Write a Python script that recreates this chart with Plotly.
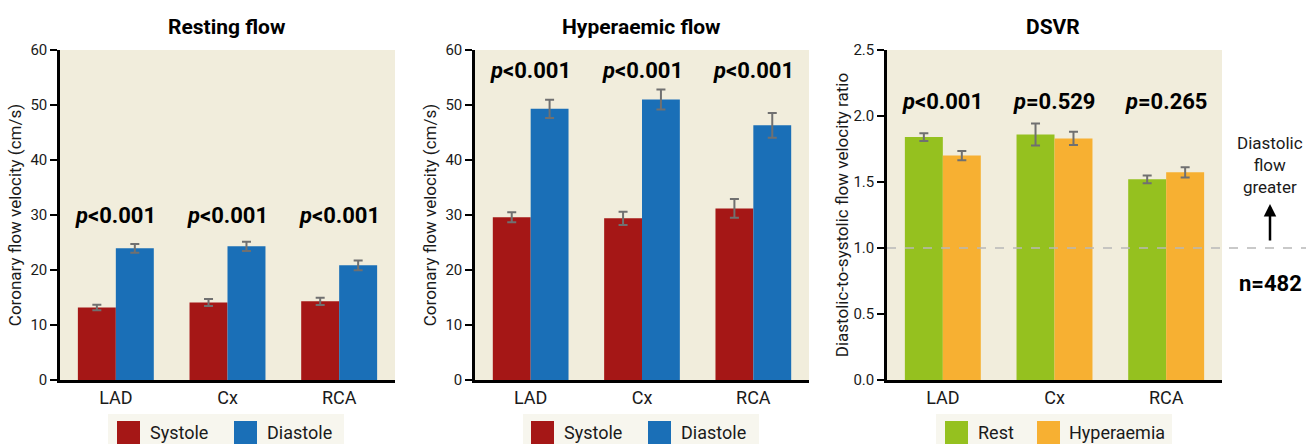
import plotly.graph_objects as go

# ---- data ----
vessels = ["LAD", "Cx", "RCA"]

rest_systole = [13.2, 14.1, 14.3]
rest_systole_err = [0.5, 0.65, 0.65]
rest_diastole = [23.95, 24.3, 20.85]
rest_diastole_err = [0.8, 0.85, 0.9]

hyp_systole = [29.6, 29.4, 31.2]
hyp_systole_err = [0.9, 1.2, 1.7]
hyp_diastole = [49.3, 51.0, 46.3]
hyp_diastole_err = [1.65, 1.8, 2.25]

dsvr_rest = [1.84, 1.86, 1.52]
dsvr_rest_err = [0.03, 0.083, 0.03]
dsvr_hyp = [1.70, 1.83, 1.573]
dsvr_hyp_err = [0.035, 0.05, 0.039]

p_rest = ["<0.001", "<0.001", "<0.001"]
p_hyp = ["<0.001", "<0.001", "<0.001"]
p_dsvr = ["<0.001", "=0.529", "=0.265"]

panel_titles = ["Resting flow", "Hyperaemic flow", "DSVR"]
y_titles = ["Coronary flow velocity (cm/s)", "Coronary flow velocity (cm/s)",
            "Diastolic-to-systolic flow velocity ratio"]
legend_names = [["Systole", "Diastole"], ["Systole", "Diastole"], ["Rest", "Hyperaemia"]]
sample_size = "n=482"
reference_ratio = 1.0

# ---- style ----
W, H = 1307, 444
FONT = "Roboto, Liberation Sans, sans-serif"
RED, BLUE = "#a51716", "#1a6fb7"
GREEN, ORANGE = "#95c11f", "#f7b032"
PLOT_BG = "#f1eddc"
LEG_BG = "#f7f6ee"
ERR = "#707070"
TXT = "#1a1a1a"


def px(x):
    return x / W


def py(y):
    return (H - y) / H


x_domains = [(60, 395), (475, 809), (887, 1222)]
panel_centres = [227, 641, 1053]
y_bottom, y_top = 380, 50
title_standoffs = [5, 5, 1]

fig = go.Figure()

series = [
    (rest_systole, rest_systole_err, rest_diastole, rest_diastole_err, RED, BLUE),
    (hyp_systole, hyp_systole_err, hyp_diastole, hyp_diastole_err, RED, BLUE),
    (dsvr_rest, dsvr_rest_err, dsvr_hyp, dsvr_hyp_err, GREEN, ORANGE),
]

for i, (a, ae, b, be, ca, cb) in enumerate(series):
    xa = "x" if i == 0 else f"x{i+1}"
    ya = "y" if i == 0 else f"y{i+1}"
    for vals, errs, col, name in ((a, ae, ca, legend_names[i][0]), (b, be, cb, legend_names[i][1])):
        fig.add_trace(go.Bar(
            x=vessels, y=vals, name=name, marker=dict(color=col, line=dict(width=0)),
            error_y=dict(type="data", array=errs, color=ERR, thickness=2, width=4.5),
            xaxis=xa, yaxis=ya, showlegend=False,
        ))

layout = dict(
    width=W, height=H, margin=dict(l=0, r=0, t=0, b=0, autoexpand=False),
    paper_bgcolor="white", plot_bgcolor=PLOT_BG,
    barmode="group", bargap=0.32, bargroupgap=0,
    font=dict(family=FONT, color=TXT),
)

y_ranges = [[0, 60], [0, 60], [0, 2.5]]
y_dticks = [10, 10, 0.5]
y_formats = ["d", "d", ".1f"]
for i in range(3):
    sfx = "" if i == 0 else str(i + 1)
    layout[f"xaxis{sfx}"] = dict(
        domain=[px(x_domains[i][0]), px(x_domains[i][1])], anchor=f"y{sfx}",
        showline=True, linecolor="black", linewidth=2.5, ticks="",
        tickfont=dict(size=18, family=FONT, color=TXT), showgrid=False,
        automargin=False,
    )
    layout[f"yaxis{sfx}"] = dict(
        domain=[py(y_bottom), py(y_top)], anchor=f"x{sfx}",
        range=y_ranges[i], dtick=y_dticks[i], tickformat=y_formats[i],
        showline=True, linecolor="black", linewidth=2.5,
        ticks="outside", ticklen=7, tickwidth=1.5, tickcolor="black",
        tickfont=dict(size=15, family=FONT, color=TXT),
        showgrid=False, zeroline=False, automargin=False,
        title=dict(text=y_titles[i], font=dict(size=17, family=FONT, color=TXT),
                   standoff=title_standoffs[i]),
    )
fig.update_layout(**layout)

annotations = []
shapes = []

# panel titles
for i in range(3):
    annotations.append(dict(
        x=px(panel_centres[i]), y=py(27), xref="paper", yref="paper",
        xanchor="center", yanchor="middle",
        text=f"<b>{panel_titles[i]}</b>", showarrow=False,
        font=dict(size=21, family=FONT, color="black"),
    ))

# p-value labels above each vessel
p_sets = [(p_rest, 30.0), (p_hyp, 56.3), (p_dsvr, 2.11)]
for i, (plist, ypos) in enumerate(p_sets):
    sfx = "" if i == 0 else str(i + 1)
    for v, p in zip(vessels, plist):
        annotations.append(dict(
            x=v, y=ypos, xref=f"x{sfx}", yref=f"y{sfx}",
            xanchor="center", yanchor="middle",
            text=f"<b><i>p</i>{p.replace('<', '&lt;')}</b>", showarrow=False,
            font=dict(size=22, family=FONT, color="black"),
        ))

# reference line at ratio 1.0, extending past the DSVR panel
shapes.append(dict(
    type="line", xref="paper", yref="y3", x0=px(887), x1=px(1306),
    y0=reference_ratio, y1=reference_ratio,
    line=dict(color="#b8b8b8", width=1.5, dash="dash"),
))

# side note with arrow
annotations.append(dict(
    x=px(1270), y=py(165), xref="paper", yref="paper",
    xanchor="center", yanchor="middle",
    text="Diastolic<br>flow<br>greater", showarrow=False,
    font=dict(size=17, family=FONT, color=TXT),
))
annotations.append(dict(
    x=px(1270), y=py(204), xref="paper", yref="paper", text="",
    showarrow=True, ax=0, ay=38, arrowhead=2, arrowsize=1, arrowwidth=2.5,
    arrowcolor="black",
))
annotations.append(dict(
    x=px(1270), y=py(283), xref="paper", yref="paper",
    xanchor="center", yanchor="middle",
    text=f"<b>{sample_size}</b>", showarrow=False,
    font=dict(size=22, family=FONT, color="black"),
))

# legends drawn beneath each panel
legend_layout = [
    ((108, 344), ((117, 140, 148), (234, 257, 265))),
    ((523, 759), ((531, 554, 562), (648, 671, 679))),
    ((936, 1172), ((945, 968, 976), (1037, 1060, 1067))),
]
legend_colours = [(RED, BLUE), (RED, BLUE), (GREEN, ORANGE)]
for i, ((bx0, bx1), items) in enumerate(legend_layout):
    shapes.append(dict(
        type="rect", xref="paper", yref="paper",
        x0=px(bx0), x1=px(bx1), y0=py(444), y1=py(414),
        fillcolor=LEG_BG, line=dict(width=0), layer="below",
    ))
    for j, (sx0, sx1, tx) in enumerate(items):
        shapes.append(dict(
            type="rect", xref="paper", yref="paper",
            x0=px(sx0), x1=px(sx1), y0=py(444), y1=py(421),
            fillcolor=legend_colours[i][j], line=dict(width=0),
        ))
        annotations.append(dict(
            x=px(tx), y=py(432), xref="paper", yref="paper",
            xanchor="left", yanchor="middle",
            text=legend_names[i][j], showarrow=False,
            font=dict(size=18, family=FONT, color=TXT),
        ))

fig.update_layout(annotations=annotations, shapes=shapes)
fig.write_html("out.html")
